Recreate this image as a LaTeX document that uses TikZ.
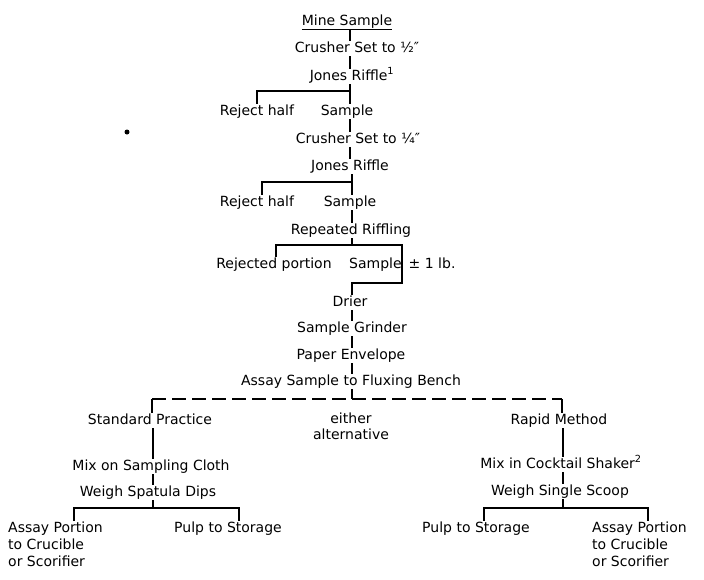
\documentclass[tikz,border=0pt]{standalone}
\usepackage{fontspec}
\setmainfont{DejaVu Sans}
\begin{document}
\begin{tikzpicture}[x=1pt,y=-1pt,
  lbl/.style={inner sep=1pt, text height=10pt, text depth=3pt, anchor=base, font=\fontsize{14}{16}\selectfont},
  blk/.style={inner sep=1pt, align=left, anchor=north west, font=\fontsize{14}{17}\selectfont},
  two/.style={inner sep=1pt, align=center, anchor=north, font=\fontsize{14}{16}\selectfont},
  conn/.style={line width=1.2pt},
  dsh/.style={line width=1.2pt, dash pattern=on 14pt off 6pt}]
\useasboundingbox (0,0) rectangle (704,579);
% columns and junctions
\coordinate (cA) at (350,0);
\coordinate (cB) at (352,0);
\coordinate (cL) at (153,0);
\coordinate (cR) at (563,0);
\coordinate (b1) at (350,91);
\coordinate (b2) at (352,182);
\coordinate (b3) at (352,245);
\coordinate (b4) at (402,283);
\coordinate (d0) at (352,399);
\coordinate (dL) at (152,399);
\coordinate (dR) at (562,399);
\coordinate (b5) at (153,508);
\coordinate (l1) at (74,508);
\coordinate (l2) at (239,508);
\coordinate (b6) at (563,508);
\coordinate (r1) at (484,508);
\coordinate (r2) at (648,508);
% nodes
\node[lbl] (ms) at (347,25) {\underline{Mine Sample}};
\node[lbl] (cs1) at (357,52) {Crusher Set to ½″};
\node[lbl] (jr1) at (352,80) {Jones Riffle\textsuperscript{1}};
\node[lbl] (rh1) at (257,115) {Reject half};
\node[lbl] (sa1) at (347,115) {Sample};
\node[lbl] (cs2) at (358,143) {Crusher Set to ¼″};
\node[lbl] (jr2) at (350,170) {Jones Riffle};
\node[lbl] (rh2) at (257,206) {Reject half};
\node[lbl] (sa2) at (350,206) {Sample};
\node[lbl] (rr) at (351,234) {Repeated Riffling};
\node[lbl] (rp) at (274,268) {Rejected portion};
\node[lbl, anchor=base west] (s1) at (348,268) {Sample\hspace{7pt}± 1 lb.};
\node[lbl] (dr) at (350,306) {Drier};
\node[lbl] (sg) at (352,332) {Sample Grinder};
\node[lbl] (pe) at (351,359) {Paper Envelope};
\node[lbl] (as) at (351,385) {Assay Sample to Fluxing Bench};
\node[lbl] (sp) at (150,424) {Standard Practice};
\node[two] (ea) at (351,412) {either\\alternative};
\node[lbl] (rm) at (559,424) {Rapid Method};
\node[lbl] (mc) at (151,470) {Mix on Sampling Cloth};
\node[lbl] (ws) at (148,496) {Weigh Spatula Dips};
\node[blk] (ap1) at (7,521) {Assay Portion\\to Crucible\\or Scorifier};
\node[lbl] (pl) at (228,532) {Pulp to Storage};
\node[lbl] (mcs) at (561,468) {Mix in Cocktail Shaker\textsuperscript{2}};
\node[lbl] (wss) at (560,495) {Weigh Single Scoop};
\node[lbl] (pr) at (476,532) {Pulp to Storage};
\node[blk] (ap2) at (591,521) {Assay Portion\\to Crucible\\or Scorifier};
% connectors
\draw[conn] (ms.south -| cA) -- (cs1.north -| cA);
\draw[conn] (cs1.south -| cA) -- (jr1.north -| cA);
\draw[conn] (jr1.south -| cA) -- (sa1.north -| cA);
\draw[conn] (b1) -| (rh1.north);
\draw[conn] (sa1.south -| cA) -- (cs2.north -| cA);
\draw[conn] (cs2.south -| cA) -- (jr2.north -| cA);
\draw[conn] (jr2.south -| cB) -- (sa2.north -| cB);
\draw[conn] (b2) -| ([xshift=5pt]rh2.north);
\draw[conn] (sa2.south -| cB) -- (rr.north -| cB);
\draw[conn] (rr.south -| cB) -- (b3);
\draw[conn] ([xshift=2pt]rp.north) |- (b3) -- (b3 -| b4) -- (b4) -| (dr.north -| cB);
\draw[conn] (dr.south -| cB) -- (sg.north -| cB);
\draw[conn] (sg.south -| cB) -- (pe.north -| cB);
\draw[conn] (pe.south -| cB) -- (as.north -| cB);
\draw[conn] (as.south -| cB) -- (d0);
\draw[dsh] (dL) -- (dR);
\draw[conn] (dL) -- (sp.north -| dL);
\draw[conn] (dR) -- (rm.north -| dR);
\draw[conn] (sp.south -| cL) -- (mc.north -| cL);
\draw[conn] (mc.south -| cL) -- (ws.north -| cL);
\draw[conn] (ws.south -| cL) -- (b5);
\draw[conn] (ap1.north -| l1) |- (l2) -- (pl.north -| l2);
\draw[conn] (rm.south -| cR) -- (mcs.north -| cR);
\draw[conn] (mcs.south -| cR) -- (wss.north -| cR);
\draw[conn] (wss.south -| cR) -- (b6);
\draw[conn] (pr.north -| r1) |- (r2) -- (ap2.north -| r2);
% stray dot
\fill (127,132) circle (2.5pt);
\end{tikzpicture}
\end{document}
